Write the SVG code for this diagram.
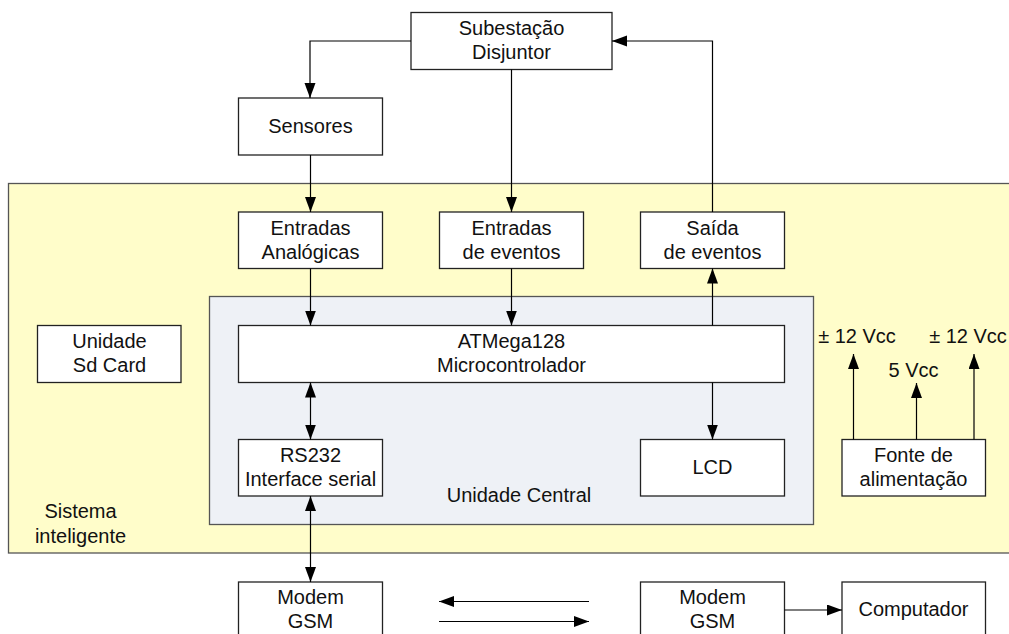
<svg xmlns="http://www.w3.org/2000/svg" width="1009" height="634" viewBox="0 0 1009 634">
<defs>
<marker id="ah" markerUnits="userSpaceOnUse" markerWidth="16" markerHeight="12" refX="15" refY="5.5" orient="auto-start-reverse" viewBox="0 0 16 12">
<path d="M0,0 L15,5.5 L0,11 z" fill="#000"/>
</marker>
<style>
.box{fill:#fff;stroke:#222;stroke-width:1.3}
.t{font-family:"Liberation Sans",Arial,Helvetica,sans-serif;font-size:20px;fill:#111;text-anchor:middle}
.c{fill:none;stroke:#000;stroke-width:1.2}
</style>
</defs>
<rect width="1009" height="634" fill="#fff"/>
<g id="sistema">
<rect x="8.5" y="183.5" width="1010" height="369.5" fill="#fffdca" stroke="#555" stroke-width="1.3"/>
<text class="t" x="80.5" y="518">Sistema</text>
<text class="t" x="80.5" y="542.5">inteligente</text>
</g>
<g id="unidade-central">
<rect x="209.5" y="296.5" width="604" height="228" fill="#eef1f6" stroke="#555" stroke-width="1.3"/>
<text class="t" x="519" y="501.5">Unidade Central</text>
</g>
<g id="subestacao"><rect class="box" x="411" y="12.5" width="201" height="57"/><text class="t" x="511.5" y="35">Subestação</text><text class="t" x="511.5" y="58.5">Disjuntor</text></g>
<g id="sensores"><rect class="box" x="238.5" y="98" width="144" height="57"/><text class="t" x="310.5" y="133">Sensores</text></g>
<g id="entradas-analogicas"><rect class="box" x="238.5" y="212" width="144" height="56.5"/><text class="t" x="310.5" y="235">Entradas</text><text class="t" x="310.5" y="258.5">Analógicas</text></g>
<g id="entradas-eventos"><rect class="box" x="439.5" y="212" width="144" height="56.5"/><text class="t" x="511.5" y="235">Entradas</text><text class="t" x="511.5" y="258.5">de eventos</text></g>
<g id="saida-eventos"><rect class="box" x="640.5" y="212" width="144" height="56.5"/><text class="t" x="712.5" y="235">Saída</text><text class="t" x="712.5" y="258.5">de eventos</text></g>
<g id="sdcard"><rect class="box" x="37.5" y="325.5" width="143.5" height="57"/><text class="t" x="109.5" y="348">Unidade</text><text class="t" x="109.5" y="371.5">Sd Card</text></g>
<g id="atmega"><rect class="box" x="238.5" y="325.5" width="546" height="57"/><text class="t" x="511.5" y="348">ATMega128</text><text class="t" x="511.5" y="371.5">Microcontrolador</text></g>
<g id="rs232"><rect class="box" x="238.5" y="439.5" width="144" height="56.5"/><text class="t" x="310.5" y="462">RS232</text><text class="t" x="310.5" y="485.5">Interface serial</text></g>
<g id="lcd"><rect class="box" x="640.5" y="439.5" width="144" height="56.5"/><text class="t" x="712.5" y="473.5">LCD</text></g>
<g id="fonte"><rect class="box" x="842" y="439.5" width="143.5" height="56.5"/><text class="t" x="913.5" y="462">Fonte de</text><text class="t" x="913.5" y="485.5">alimentação</text></g>
<g id="modem1"><rect class="box" x="238.5" y="582" width="144" height="57"/><text class="t" x="310.5" y="603.5">Modem</text><text class="t" x="310.5" y="627.5">GSM</text></g>
<g id="modem2"><rect class="box" x="640.5" y="582" width="144" height="57"/><text class="t" x="712.5" y="603.5">Modem</text><text class="t" x="712.5" y="627.5">GSM</text></g>
<g id="computador"><rect class="box" x="842" y="582" width="143.5" height="57"/><text class="t" x="913.5" y="616">Computador</text></g>
<g id="labels">
<text class="t" x="857" y="343">± 12 Vcc</text>
<text class="t" x="968" y="343">± 12 Vcc</text>
<text class="t" x="913.5" y="377">5 Vcc</text>
</g>
<g id="connectors">
<path class="c" d="M411,41 H310 V98" marker-end="url(#ah)"/>
<path class="c" d="M511.5,69.5 V212" marker-end="url(#ah)"/>
<path class="c" d="M712.5,212 V41 H612" marker-end="url(#ah)"/>
<path class="c" d="M310.5,155 V212" marker-end="url(#ah)"/>
<path class="c" d="M310.5,268.5 V325.5" marker-end="url(#ah)"/>
<path class="c" d="M511.5,268.5 V325.5" marker-end="url(#ah)"/>
<path class="c" d="M712.5,325.5 V268.5" marker-end="url(#ah)"/>
<path class="c" d="M712.5,382.5 V439.5" marker-end="url(#ah)"/>
<path class="c" d="M310.5,382.5 V439.5" marker-start="url(#ah)" marker-end="url(#ah)"/>
<path class="c" d="M310.5,496 V582" marker-start="url(#ah)" marker-end="url(#ah)"/>
<path class="c" d="M853.5,439.5 V354" marker-end="url(#ah)"/>
<path class="c" d="M916.5,439.5 V383" marker-end="url(#ah)"/>
<path class="c" d="M974,439.5 V354" marker-end="url(#ah)"/>
<path class="c" d="M589,601.5 H439" marker-end="url(#ah)"/>
<path class="c" d="M439,621.5 H589" marker-end="url(#ah)"/>
<path class="c" d="M784.5,610 H842" marker-end="url(#ah)"/>
</g>
</svg>
